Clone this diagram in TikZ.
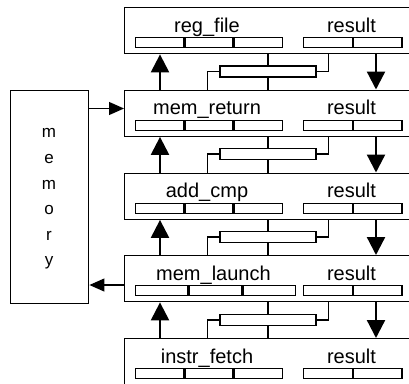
\documentclass[tikz,border=0pt]{standalone}
\usepackage{fontspec}
\setmainfont{Liberation Sans}
\usetikzlibrary{arrows.meta,calc}

\tikzset{
  stagebox/.style={draw, line width=1.4pt, anchor=north west,
    minimum width=300pt, minimum height=46pt, inner sep=0pt},
  cell/.style={draw, line width=1.4pt, anchor=north west,
    minimum height=10pt, inner sep=0pt},
  lbl/.style={anchor=base, inner sep=0pt, font=\fontsize{20}{24}\selectfont},
  bar/.style={draw, line width=1.4pt, minimum width=96pt,
    minimum height=11pt, inner sep=0pt},
  wire/.style={line width=1.3pt},
  bigarrow/.style={line width=2.3pt, -{Triangle[length=18pt,width=18pt]}},
  smallarrow/.style={line width=1.1pt, -{Triangle[length=15pt,width=13pt]}},
  membox/.style={draw, line width=1.4pt, anchor=north west,
    minimum width=78pt, minimum height=213pt, inner sep=0pt},
}

% #1 name, #2 top edge, #3 label, #4 width of each left cell
\newcommand\pipestage[4]{%
  \node[stagebox] (#1) at (124,#2) {};
  \node[cell, minimum width=#4pt] (#1-a) at (135,{#2+30}) {};
  \node[cell, minimum width=#4pt] (#1-b) at (#1-a.north east) {};
  \node[cell, minimum width=#4pt] (#1-c) at (#1-b.north east) {};
  \node[cell, minimum width=48.5pt] (#1-r1) at (303,{#2+30}) {};
  \node[cell, minimum width=48.5pt] (#1-r2) at (#1-r1.north east) {};
  \node[lbl] (#1-name) at ({135+1.5*#4},{#2+25}) {#3};
  \node[lbl] (#1-res) at (351.5,{#2+25}) {result};
}

% links between an upper and a lower stage through the middle bar
\newcommand\stagelink[3]{% #1 upper, #2 lower, #3 bar centre y
  \node[bar] (#1-bar) at (268,#3) {};
  \draw[wire] (#1-bar.north) -- (#1-bar.north |- #1.south);
  \draw[wire] (#1-bar.south) -- (#1-bar.south |- #2.north);
  \path (#1-bar.east) ++(12pt,0) coordinate (#1-er);
  \path (#1-bar.west) ++(-12pt,0) coordinate (#1-el);
  \draw[wire] (#1-bar.east) -| (#1-er |- #1.south);
  \draw[wire] (#1-bar.west) -| (#1-el |- #2.north);
  \draw[bigarrow] ([xshift=36pt]#2.north west) -- ([xshift=36pt]#1.south west);
  \draw[bigarrow] ([xshift=252pt]#1.south west) -- ([xshift=252pt]#2.north west);
}

\begin{document}
\begin{tikzpicture}[x=1pt, y=-1pt]
  \useasboundingbox (0,0) rectangle (409,383);
  \clip (0,0) rectangle (409,383);

  \pipestage{regfile}{7}{reg\_file}{48}
  \pipestage{memreturn}{89.5}{mem\_return}{48}
  \pipestage{addcmp}{172.5}{add\_cmp}{48}
  \pipestage{memlaunch}{255}{mem\_launch}{52.3}
  \pipestage{instrfetch}{338}{instr\_fetch}{48}

  \stagelink{regfile}{memreturn}{71.5}
  \stagelink{memreturn}{addcmp}{154}
  \stagelink{addcmp}{memlaunch}{237}
  \stagelink{memlaunch}{instrfetch}{320}

  % memory block
  \node[membox] (mem) at (10,89.5) {};
  \node[align=center, inner sep=0pt, font=\fontsize{17}{25.6}\selectfont]
    (memtext) at (49,199) {m\\e\\m\\o\\r\\y};

  \coordinate (memin) at ([yshift=-19pt]mem.north east);
  \draw[smallarrow] (memin) -- (memin -| memreturn.west);
  \coordinate (memout) at ([yshift=-30pt]memlaunch.north west);
  \draw[smallarrow] (memout) -- (memout -| mem.east);
\end{tikzpicture}
\end{document}
